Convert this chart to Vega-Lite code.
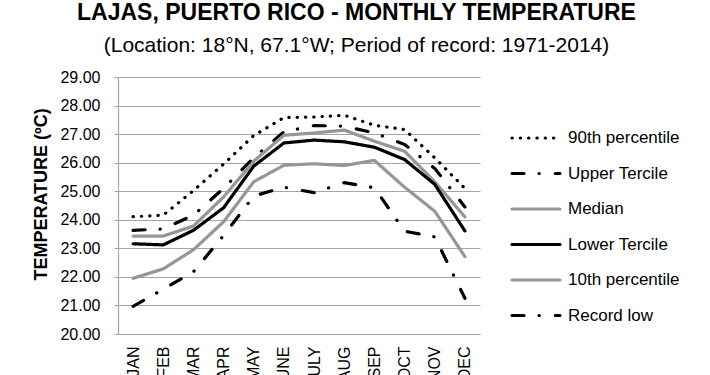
{
  "$schema": "https://vega.github.io/schema/vega-lite/v6.json",
  "width": 362,
  "height": 257,
  "autosize": {"type": "none"},
  "padding": {"left": 118, "top": 77, "right": 230, "bottom": 41},
  "background": "white",
  "config": {
    "font": "Liberation Sans",
    "view": {"stroke": null},
    "title": {"color": "#000000", "subtitleColor": "#000000"}
  },
  "title": {
    "text": "LAJAS, PUERTO RICO - MONTHLY TEMPERATURE",
    "subtitle": "(Location: 18°N, 67.1°W; Period of record: 1971-2014)",
    "fontSize": 23,
    "fontWeight": "bold",
    "subtitleFontSize": 21,
    "subtitlePadding": 10,
    "anchor": "middle",
    "frame": "bounds",
    "offset": 13
  },
  "data": {
    "values": [
      {"month": "JAN", "series": "90th percentile", "value": 24.11},
      {"month": "FEB", "series": "90th percentile", "value": 24.16},
      {"month": "MAR", "series": "90th percentile", "value": 25.02},
      {"month": "APR", "series": "90th percentile", "value": 25.95},
      {"month": "MAY", "series": "90th percentile", "value": 26.95},
      {"month": "JUNE", "series": "90th percentile", "value": 27.58},
      {"month": "JULY", "series": "90th percentile", "value": 27.6},
      {"month": "AUG", "series": "90th percentile", "value": 27.66},
      {"month": "SEP", "series": "90th percentile", "value": 27.31},
      {"month": "OCT", "series": "90th percentile", "value": 27.16},
      {"month": "NOV", "series": "90th percentile", "value": 26.17},
      {"month": "DEC", "series": "90th percentile", "value": 25.1},
      {"month": "JAN", "series": "Upper Tercile", "value": 23.63},
      {"month": "FEB", "series": "Upper Tercile", "value": 23.68},
      {"month": "MAR", "series": "Upper Tercile", "value": 24.16},
      {"month": "APR", "series": "Upper Tercile", "value": 25.1},
      {"month": "MAY", "series": "Upper Tercile", "value": 26.17},
      {"month": "JUNE", "series": "Upper Tercile", "value": 27.08},
      {"month": "JULY", "series": "Upper Tercile", "value": 27.3},
      {"month": "AUG", "series": "Upper Tercile", "value": 27.28},
      {"month": "SEP", "series": "Upper Tercile", "value": 27.04},
      {"month": "OCT", "series": "Upper Tercile", "value": 26.64},
      {"month": "NOV", "series": "Upper Tercile", "value": 25.8},
      {"month": "DEC", "series": "Upper Tercile", "value": 24.45},
      {"month": "JAN", "series": "Median", "value": 23.43},
      {"month": "FEB", "series": "Median", "value": 23.43},
      {"month": "MAR", "series": "Median", "value": 23.78},
      {"month": "APR", "series": "Median", "value": 24.8},
      {"month": "MAY", "series": "Median", "value": 26.05},
      {"month": "JUNE", "series": "Median", "value": 26.96},
      {"month": "JULY", "series": "Median", "value": 27.04},
      {"month": "AUG", "series": "Median", "value": 27.14},
      {"month": "SEP", "series": "Median", "value": 26.75},
      {"month": "OCT", "series": "Median", "value": 26.4},
      {"month": "NOV", "series": "Median", "value": 25.33},
      {"month": "DEC", "series": "Median", "value": 24.1},
      {"month": "JAN", "series": "Lower Tercile", "value": 23.16},
      {"month": "FEB", "series": "Lower Tercile", "value": 23.12},
      {"month": "MAR", "series": "Lower Tercile", "value": 23.63},
      {"month": "APR", "series": "Lower Tercile", "value": 24.42},
      {"month": "MAY", "series": "Lower Tercile", "value": 25.88},
      {"month": "JUNE", "series": "Lower Tercile", "value": 26.69},
      {"month": "JULY", "series": "Lower Tercile", "value": 26.79},
      {"month": "AUG", "series": "Lower Tercile", "value": 26.73},
      {"month": "SEP", "series": "Lower Tercile", "value": 26.54},
      {"month": "OCT", "series": "Lower Tercile", "value": 26.11},
      {"month": "NOV", "series": "Lower Tercile", "value": 25.24},
      {"month": "DEC", "series": "Lower Tercile", "value": 23.61},
      {"month": "JAN", "series": "10th percentile", "value": 21.95},
      {"month": "FEB", "series": "10th percentile", "value": 22.28},
      {"month": "MAR", "series": "10th percentile", "value": 22.95},
      {"month": "APR", "series": "10th percentile", "value": 23.93},
      {"month": "MAY", "series": "10th percentile", "value": 25.33},
      {"month": "JUNE", "series": "10th percentile", "value": 25.91},
      {"month": "JULY", "series": "10th percentile", "value": 25.96},
      {"month": "AUG", "series": "10th percentile", "value": 25.9},
      {"month": "SEP", "series": "10th percentile", "value": 26.08},
      {"month": "OCT", "series": "10th percentile", "value": 25.14},
      {"month": "NOV", "series": "10th percentile", "value": 24.3},
      {"month": "DEC", "series": "10th percentile", "value": 22.71},
      {"month": "JAN", "series": "Record low", "value": 20.97},
      {"month": "FEB", "series": "Record low", "value": 21.57},
      {"month": "MAR", "series": "Record low", "value": 22.18},
      {"month": "APR", "series": "Record low", "value": 23.45},
      {"month": "MAY", "series": "Record low", "value": 24.83},
      {"month": "JUNE", "series": "Record low", "value": 25.14},
      {"month": "JULY", "series": "Record low", "value": 24.95},
      {"month": "AUG", "series": "Record low", "value": 25.3},
      {"month": "SEP", "series": "Record low", "value": 25.12},
      {"month": "OCT", "series": "Record low", "value": 23.6},
      {"month": "NOV", "series": "Record low", "value": 23.4},
      {"month": "DEC", "series": "Record low", "value": 21.25}
    ]
  },
  "mark": {"type": "line", "strokeWidth": 3.2, "strokeCap": "round", "strokeJoin": "round"},
  "encoding": {
    "x": {
      "field": "month",
      "type": "ordinal",
      "sort": ["JAN", "FEB", "MAR", "APR", "MAY", "JUNE", "JULY", "AUG", "SEP", "OCT", "NOV", "DEC"],
      "scale": {"type": "point", "padding": 0.5},
      "axis": {
        "title": null,
        "labelAngle": -90,
        "labelAlign": "right",
        "labelBaseline": "middle",
        "labelFontSize": 16,
        "labelColor": "#000000",
        "labelPadding": 12,
        "ticks": false,
        "grid": false,
        "domainColor": "#a6a6a6",
        "domainWidth": 1.2
      }
    },
    "y": {
      "field": "value",
      "type": "quantitative",
      "scale": {"domain": [20, 29], "nice": false, "zero": false},
      "axis": {
        "title": "TEMPERATURE (ºC)",
        "titleFontSize": 18,
        "titleFontWeight": "bold",
        "titleColor": "#000000",
        "titlePadding": 9,
        "titleY": 117,
        "values": [20, 21, 22, 23, 24, 25, 26, 27, 28, 29],
        "format": ".2f",
        "labelFontSize": 16,
        "labelColor": "#000000",
        "labelPadding": 14,
        "tickSize": 4,
        "tickColor": "#a6a6a6",
        "domainColor": "#a6a6a6",
        "domainWidth": 1.2,
        "gridColor": "#a6a6a6",
        "gridWidth": 1.2
      }
    },
    "color": {
      "field": "series",
      "type": "nominal",
      "scale": {
        "domain": ["90th percentile", "Upper Tercile", "Median", "Lower Tercile", "10th percentile", "Record low"],
        "range": ["#000000", "#000000", "#969696", "#000000", "#969696", "#000000"]
      },
      "legend": {
        "title": null,
        "orient": "none",
        "legendX": 392,
        "legendY": 52,
        "symbolType": "stroke",
        "symbolSize": 2304,
        "symbolStrokeWidth": 3.2,
        "labelFontSize": 17,
        "labelColor": "#000000",
        "labelOffset": 6,
        "clipHeight": 18,
        "rowPadding": 17.5,
        "encode": {"symbols": {"update": {"strokeCap": {"value": "round"}}}}
      }
    },
    "strokeDash": {
      "field": "series",
      "type": "nominal",
      "scale": {
        "domain": ["90th percentile", "Upper Tercile", "Median", "Lower Tercile", "10th percentile", "Record low"],
        "range": [[0.3, 8], [12, 15, 0.3, 16], [1, 0], [1, 0], [1, 0], [12, 15, 0.3, 16]]
      }
    }
  }
}
